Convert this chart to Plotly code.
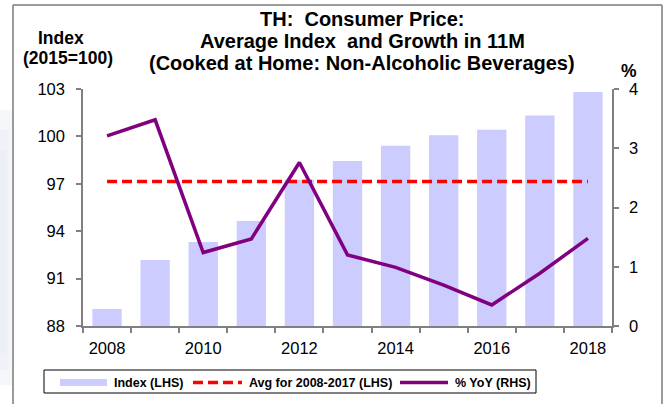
import plotly.graph_objects as go

# ---- data ----
years = [2008, 2009, 2010, 2011, 2012, 2013, 2014, 2015, 2016, 2017, 2018]
index_lhs = [89.08, 92.18, 93.32, 94.65, 97.25, 98.44, 99.41, 100.08, 100.42, 101.33, 102.81]
avg_2008_2017 = 97.15
yoy_rhs = [3.21, 3.48, 1.24, 1.47, 2.76, 1.20, 0.99, 0.69, 0.355, 0.89, 1.48]
x_tick_labels = ["2008", "2010", "2012", "2014", "2016", "2018"]

W, H = 668, 404
L, R, T, B = 83, 612, 89, 326  # plot-area edges in pixels

FONT = "Arial, Liberation Sans, sans-serif"
BAR_C = "#CCCCFF"
AVG_C = "#FF0000"
YOY_C = "#800080"
AXIS_C = "#808080"


def px(x):
    return (x - L) / (R - L)


def py(y):
    return (B - y) / (B - T)


fig = go.Figure()

fig.add_trace(go.Bar(x=years, y=index_lhs, marker=dict(color=BAR_C, line=dict(width=0)),
                     width=0.61, name="Index (LHS)", showlegend=False))
fig.add_trace(go.Scatter(x=years, y=[avg_2008_2017] * len(years), mode="lines",
                         line=dict(color=AVG_C, width=3.4, dash="10px,5px"),
                         name="Avg for 2008-2017 (LHS)", showlegend=False))
fig.add_trace(go.Scatter(x=years, y=yoy_rhs, mode="lines", yaxis="y2",
                         line=dict(color=YOY_C, width=3.5),
                         name="% YoY (RHS)", showlegend=False))

tick_font = dict(family=FONT, size=16.5, color="#000000")

fig.update_layout(
    width=W, height=H,
    margin=dict(l=L, r=W - R, t=T, b=H - B, pad=0),
    paper_bgcolor="white", plot_bgcolor="white",
    font=dict(family=FONT, color="#000000"),
    bargap=0.39,
    xaxis=dict(range=[2007.5, 2018.5], tickmode="array",
               tickvals=[int(t) for t in x_tick_labels], ticktext=x_tick_labels,
               ticks="", showline=True, linecolor=AXIS_C, linewidth=1.5,
               showgrid=False, zeroline=False, tickfont=tick_font,
               ticklabelstandoff=6,
               minor=dict(tickmode="linear", tick0=2007.5, dtick=1, ticks="outside",
                          ticklen=5, tickwidth=1.5, tickcolor=AXIS_C, showgrid=False)),
    yaxis=dict(range=[88, 103], tickmode="linear", tick0=88, dtick=3,
               ticks="outside", ticklen=5, tickwidth=1.5, tickcolor=AXIS_C,
               showline=True, linecolor=AXIS_C, linewidth=1.5,
               showgrid=False, zeroline=False, tickfont=tick_font,
               ticklabelstandoff=8),
    yaxis2=dict(range=[0, 4], tickmode="linear", tick0=0, dtick=1, overlaying="y",
                side="right", ticks="outside", ticklen=5, tickwidth=1.5,
                tickcolor=AXIS_C, showline=True, linecolor=AXIS_C, linewidth=1.5,
                showgrid=False, zeroline=False, tickfont=tick_font,
                ticklabelstandoff=7),
    showlegend=False,
)

shapes = []
annotations = []

# outer frame (top, left, right)
frame = dict(type="line", xref="paper", yref="paper", line=dict(color="#7a7a7a", width=1.5))
shapes.append(dict(frame, x0=px(13), x1=px(662), y0=py(5), y1=py(5)))
shapes.append(dict(frame, x0=px(13), x1=px(13), y0=py(5), y1=py(H)))
shapes.append(dict(frame, x0=px(662), x1=px(662), y0=py(5), y1=py(H)))

# faint tint to the left of the frame
for i, a in enumerate([0.18, 0.14, 0.10]):
    shapes.append(dict(type="rect", xref="paper", yref="paper", layer="below",
                       x0=px(0), x1=px(12 - i * 3), y0=py(110 + i * 20), y1=py(385 - i * 15),
                       fillcolor=f"rgba(205,212,235,{a})", line=dict(width=0)))

# title lines
title_lines = ["TH:  Consumer Price:",
               "Average Index  and Growth in 11M",
               "(Cooked at Home: Non-Alcoholic Beverages)"]
for text, yc in zip(title_lines, [19, 41, 63]):
    annotations.append(dict(text=f"<b>{text}</b>", x=px(362), y=py(yc), xref="paper", yref="paper",
                            xanchor="center", yanchor="middle", showarrow=False,
                            font=dict(family=FONT, size=20, color="#000000")))

# axis titles
annotations.append(dict(text="<b>Index</b>", x=px(61), y=py(38), xref="paper", yref="paper",
                        xanchor="center", yanchor="middle", showarrow=False,
                        font=dict(family=FONT, size=17.5)))
annotations.append(dict(text="<b>(2015=100)</b>", x=px(68), y=py(58), xref="paper", yref="paper",
                        xanchor="center", yanchor="middle", showarrow=False,
                        font=dict(family=FONT, size=17.5)))
annotations.append(dict(text="<b>%</b>", x=px(629), y=py(71), xref="paper", yref="paper",
                        xanchor="center", yanchor="middle", showarrow=False,
                        font=dict(family=FONT, size=17.5)))

# legend box
shapes.append(dict(type="rect", xref="paper", yref="paper",
                   x0=px(44), x1=px(536), y0=py(370), y1=py(393),
                   line=dict(color="#000000", width=1), fillcolor="white"))
ly = 382.5
shapes.append(dict(type="rect", xref="paper", yref="paper",
                   x0=px(60), x1=px(107), y0=py(ly - 3.5), y1=py(ly + 3.5),
                   fillcolor=BAR_C, line=dict(width=0)))
shapes.append(dict(type="line", xref="paper", yref="paper",
                   x0=px(193), x1=px(242), y0=py(ly), y1=py(ly),
                   line=dict(color=AVG_C, width=3.4, dash="10px,5px")))
shapes.append(dict(type="line", xref="paper", yref="paper",
                   x0=px(400), x1=px(448), y0=py(ly), y1=py(ly),
                   line=dict(color=YOY_C, width=3.5)))
for text, x0 in [("Index (LHS)", 112), ("Avg for 2008-2017 (LHS)", 247), ("% YoY (RHS)", 453)]:
    annotations.append(dict(text=f"<b>{text}</b>", x=px(x0), y=py(ly), xref="paper", yref="paper",
                            xanchor="left", yanchor="middle", showarrow=False,
                            font=dict(family=FONT, size=12.5)))

fig.update_layout(shapes=shapes, annotations=annotations)

fig.write_html("out.html")
